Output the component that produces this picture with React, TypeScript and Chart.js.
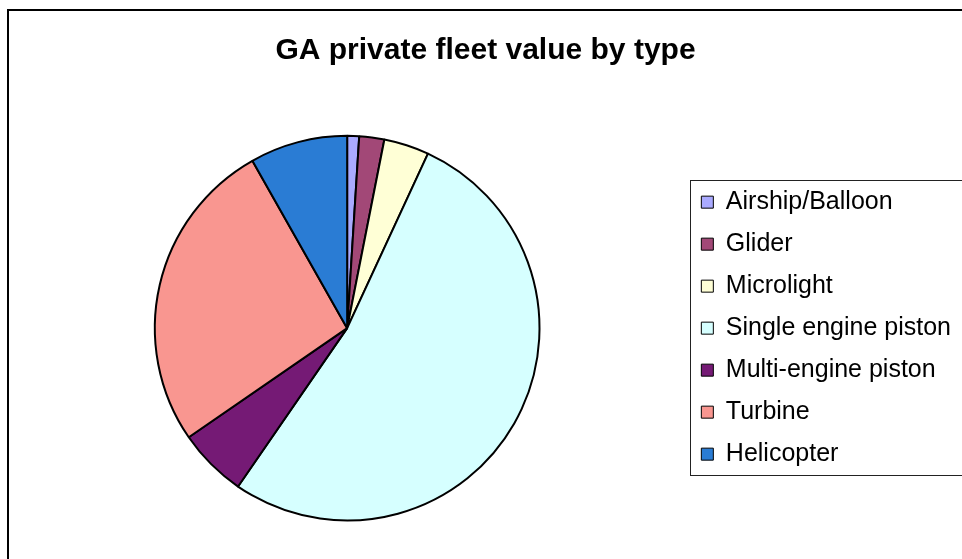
import React, { useEffect, useRef } from "react";
import { Chart, registerables } from "chart.js";

Chart.register(...registerables);

const TITLE = "GA private fleet value by type";
const categories = [
  "Airship/Balloon",
  "Glider",
  "Microlight",
  "Single engine piston",
  "Multi-engine piston",
  "Turbine",
  "Helicopter",
];
const values = [1.0, 2.1, 3.8, 52.7, 5.8, 26.4, 8.2];
const colors = ["#AAAAFF", "#A24877", "#FFFFD6", "#D6FFFF", "#751A75", "#F99690", "#2A7CD4"];

const FONT = "Arial, 'Liberation Sans', sans-serif";

const framePlugin = {
  id: "frame",
  afterDraw(chart: any) {
    const ctx = chart.ctx;
    ctx.save();
    ctx.strokeStyle = "#000";
    ctx.lineWidth = 2;
    ctx.strokeRect(8, 10, chart.width + 50, chart.height + 50);
    const lg = chart.legend;
    if (lg && lg.legendHitBoxes && lg.legendHitBoxes.length) {
      const boxes = lg.legendHitBoxes;
      const first = boxes[0];
      const last = boxes[boxes.length - 1];
      const left = 690.5;
      const top = Math.round(first.top - 10) + 0.5;
      const bottom = Math.round(last.top + last.height + 8) + 0.5;
      ctx.lineWidth = 1;
      ctx.strokeStyle = "#222";
      ctx.strokeRect(left, top, chart.width + 50, bottom - top);
    }
    ctx.restore();
  },
};

export default function App() {
  const ref = useRef<HTMLCanvasElement | null>(null);
  useEffect(() => {
    if (!ref.current) return;
    const chart = new Chart(ref.current, {
      type: "pie",
      data: {
        labels: categories,
        datasets: [
          {
            data: values,
            backgroundColor: colors,
            borderColor: "#000",
            borderWidth: 2,
            hoverOffset: 0,
          },
        ],
      },
      options: {
        responsive: false,
        animation: false,
        layout: { padding: { left: 10, right: 1, top: 0, bottom: 37.5 } },
        plugins: {
          tooltip: { enabled: false },
          title: {
            display: true,
            text: TITLE,
            color: "#000",
            font: { family: FONT, size: 30, weight: "bold" },
            padding: { top: 33, bottom: 65.8 },
          },
          legend: {
            position: "right",
            fullSize: false,
            align: "center",
            labels: {
              color: "#000",
              font: { family: FONT, size: 25 },
              boxWidth: 12,
              boxHeight: 12,
              padding: 17,
              generateLabels: (c: any) => {
                const base = (Chart as any).overrides.pie.plugins.legend.labels.generateLabels(c);
                return base.map((l: any) => ({ ...l, lineWidth: 1, strokeStyle: "#000" }));
              },
            },
          },
        },
      },
      plugins: [framePlugin],
    });
    return () => chart.destroy();
  }, []);
  return (
    <div style={{ position: "absolute", left: 0, top: 0, width: 962, height: 559, background: "#fff" }}>
      <canvas ref={ref} width={962} height={559} />
    </div>
  );
}
